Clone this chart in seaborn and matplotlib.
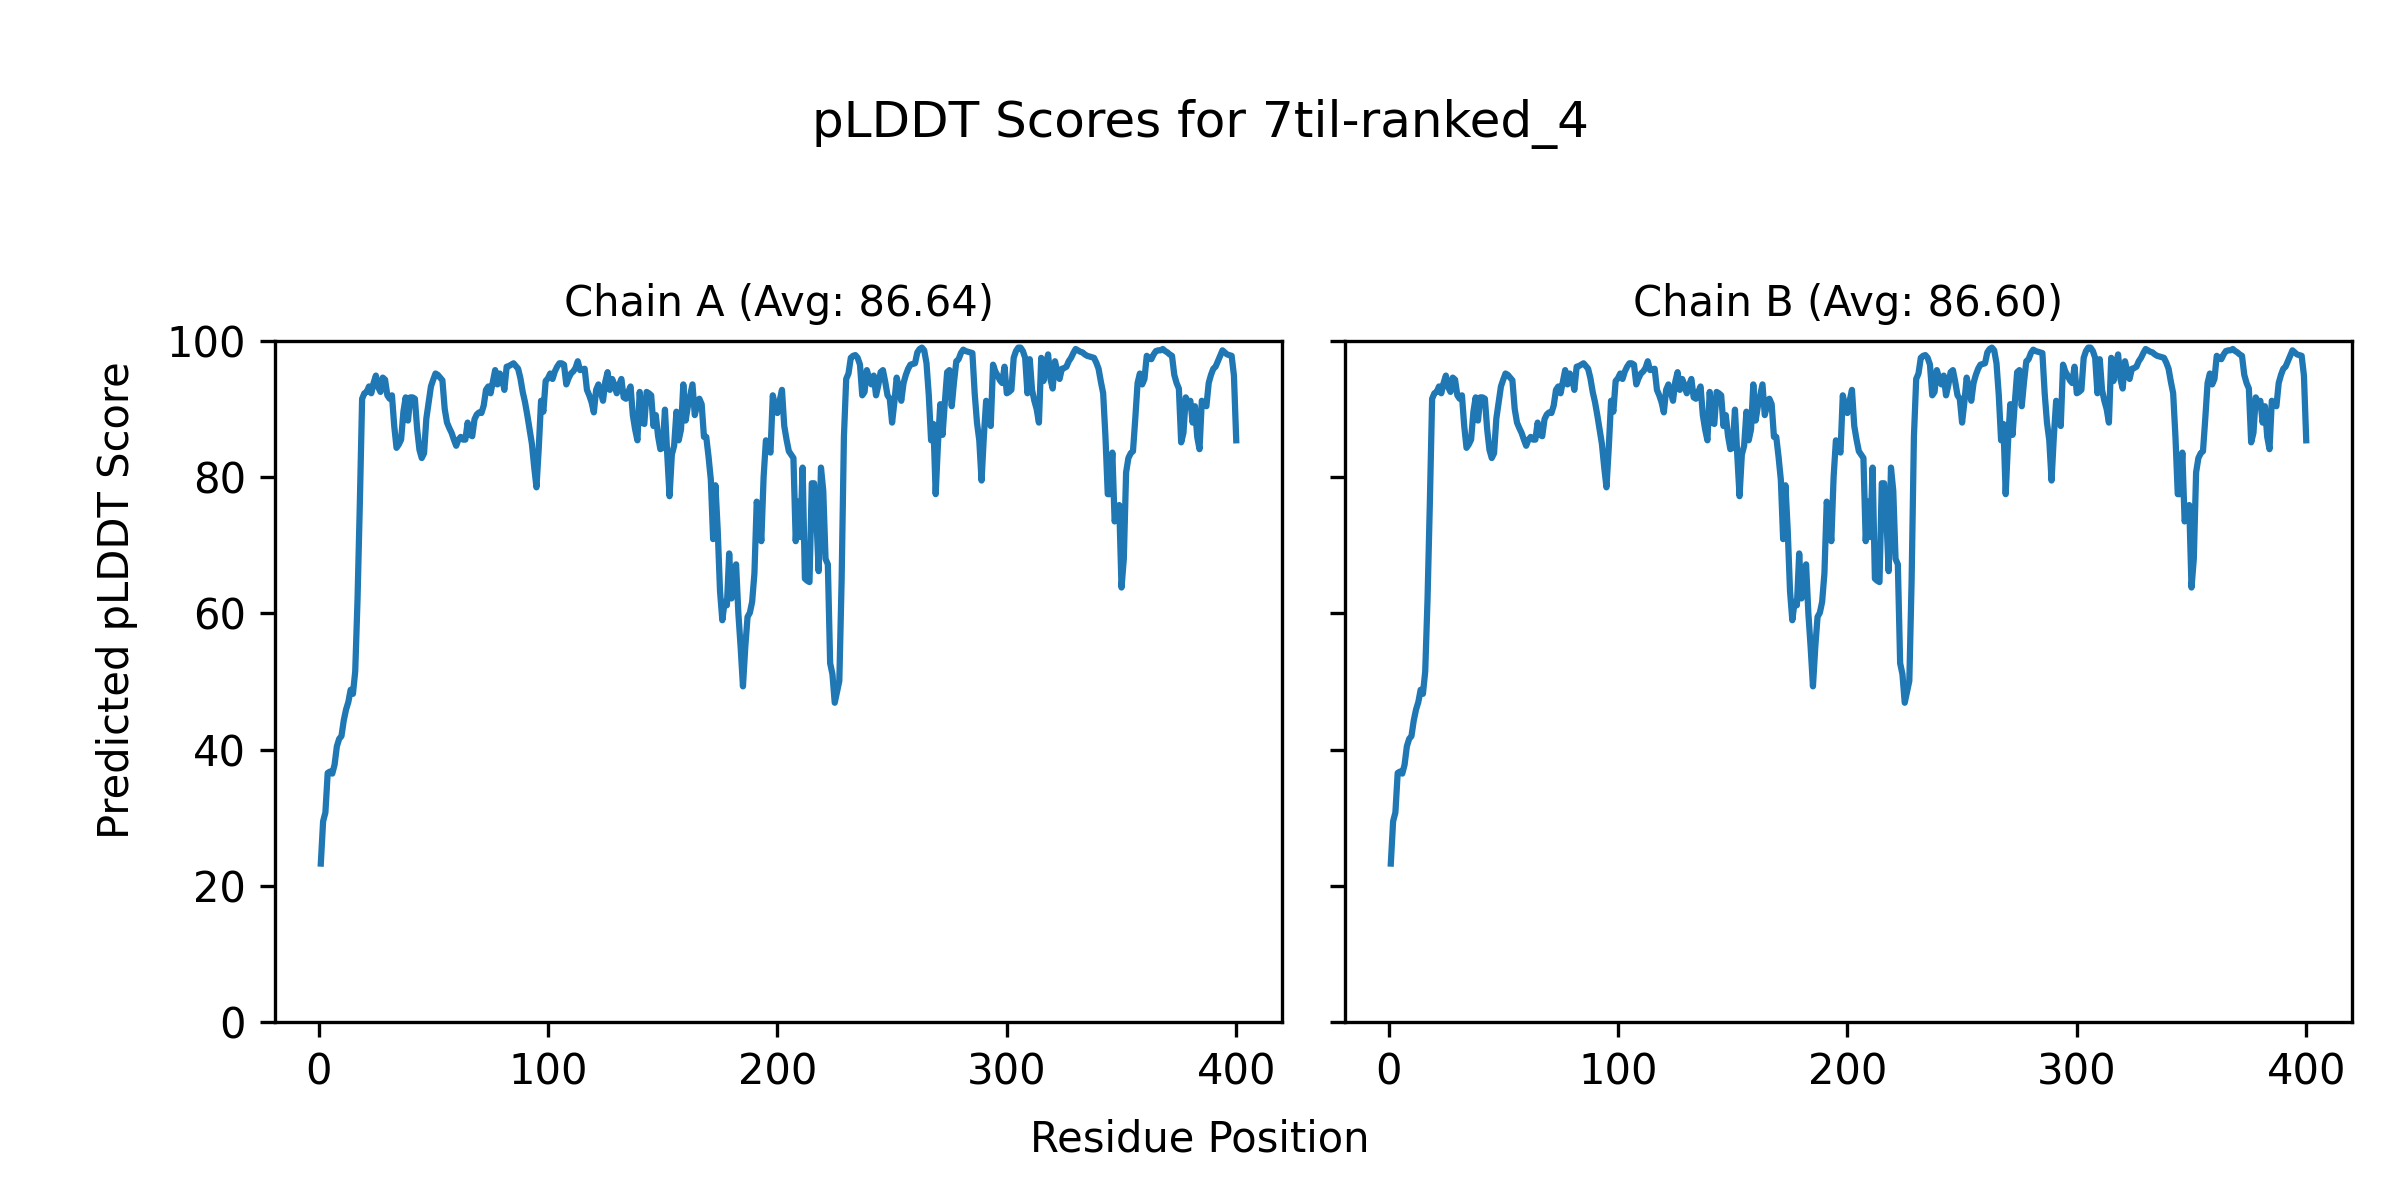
import matplotlib
matplotlib.use('Agg')
import matplotlib.pyplot as plt
import seaborn as sns
import numpy as np

model_name = '7til-ranked_4'
chain_ids = ['A', 'B']
chain_avgs = [86.64, 86.60]

# per-residue pLDDT (residues 1..400)
chain_a_scores = [
    23.3, 29.5, 30.8, 36.6, 36.8, 36.5, 37.8, 40.5, 41.6, 42.0,
    44.3, 45.9, 47.0, 48.8, 48.2, 51.5, 62.0, 76.0, 91.5, 92.3,
    92.5, 93.3, 92.3, 93.8, 94.9, 93.2, 92.5, 94.6, 94.3, 92.0,
    91.5, 92.0, 87.5, 84.3, 84.8, 85.5, 89.6, 91.7, 88.3, 91.7,
    91.7, 91.5, 87.0, 84.0, 82.8, 83.5, 88.6, 91.0, 93.3, 94.3,
    95.2, 95.0, 94.6, 94.2, 90.0, 88.0, 87.2, 86.5, 85.5, 84.6,
    85.5, 85.9, 85.5, 85.5, 88.0, 86.2, 86.0, 88.5, 89.2, 89.5,
    89.4, 90.5, 92.8, 93.3, 92.3, 94.0, 95.7, 93.6, 95.2, 94.5,
    92.8, 96.2, 96.3, 96.5, 96.7, 96.3, 95.9, 94.5, 92.5, 91.0,
    89.1, 87.0, 84.9, 81.5, 78.5, 84.3, 91.2, 89.6, 94.1, 94.5,
    95.2, 94.4, 95.5, 96.2, 96.7, 96.7, 96.5, 93.6, 94.5, 95.2,
    95.5, 96.0, 97.0, 95.7, 95.8, 95.9, 92.8, 92.0, 91.0, 89.5,
    92.8, 93.6, 92.5, 91.2, 94.0, 95.4, 92.8, 94.4, 93.5, 92.3,
    93.5, 94.4, 91.7, 91.5, 92.5, 93.3, 89.1, 87.0, 85.4, 92.5,
    88.0, 87.8, 92.5, 92.3, 92.0, 87.5, 89.1, 86.0, 84.1, 84.3,
    89.9, 83.3, 77.2, 83.3, 84.6, 89.6, 85.4, 87.0, 93.6, 88.3,
    90.4, 92.0, 93.6, 89.1, 90.5, 91.5, 90.7, 85.9, 85.9, 83.0,
    79.6, 70.9, 78.8, 72.2, 63.3, 59.0, 61.7, 61.2, 68.8, 62.2,
    64.8, 67.2, 60.0, 55.0, 49.3, 55.0, 59.5, 60.1, 61.7, 65.9,
    76.4, 74.3, 70.6, 80.0, 85.4, 84.5, 83.6, 92.0, 90.5, 89.4,
    91.2, 92.8, 87.5, 85.5, 83.8, 83.3, 82.8, 70.6, 76.4, 71.2,
    81.4, 65.1, 64.8, 64.6, 79.1, 79.1, 74.0, 66.2, 81.4, 78.0,
    68.0, 67.2, 52.7, 51.1, 46.9, 48.5, 50.1, 64.8, 85.9, 94.4,
    95.2, 97.5, 97.8, 97.9, 97.5, 96.5, 92.0, 92.5, 95.7, 94.5,
    93.6, 94.9, 92.0, 93.5, 95.4, 95.7, 94.0, 92.0, 91.5, 88.0,
    91.0, 94.6, 93.0, 91.2, 93.8, 95.0, 95.9, 96.5, 96.6, 96.7,
    98.3, 98.8, 99.0, 98.6, 96.7, 92.0, 85.4, 87.8, 77.5, 84.9,
    90.7, 86.2, 91.0, 95.4, 95.7, 90.4, 94.0, 97.0, 97.3, 98.2,
    98.7, 98.5, 98.4, 98.3, 98.2, 92.3, 88.0, 85.4, 79.5, 86.0,
    91.2, 90.5, 87.5, 96.5, 95.5, 94.9, 94.2, 93.8, 96.2, 92.3,
    92.5, 92.8, 97.5, 98.5, 99.0, 99.0, 98.5, 97.5, 92.3, 97.3,
    92.8, 91.2, 90.0, 88.0, 97.5, 94.1, 96.5, 98.0, 94.4, 93.0,
    97.0, 95.5, 94.4, 95.9, 96.0, 96.2, 97.0, 97.5, 98.2, 98.8,
    98.6, 98.4, 98.3, 98.0, 97.8, 97.7, 97.6, 97.5, 96.8, 95.9,
    94.0, 92.3, 85.9, 77.5, 77.5, 83.6, 73.5, 74.8, 75.9, 63.8,
    68.0, 80.7, 82.8, 83.5, 83.8, 88.6, 93.8, 95.2, 93.6, 94.4,
    97.8, 97.5, 97.3, 98.0, 98.5, 98.6, 98.6, 98.8, 98.5, 98.3,
    98.0, 97.8, 95.0, 93.8, 93.0, 85.1, 86.5, 91.7, 90.9, 91.2,
    88.0, 90.4, 85.9, 84.1, 91.2, 90.8, 90.4, 93.8, 95.0, 95.9,
    96.2, 97.0, 97.8, 98.6, 98.3, 98.0, 97.9, 97.8, 94.9, 85.4,
]
# chain B looks identical in the picture
chain_b_scores = list(chain_a_scores)

residues = np.arange(1, len(chain_a_scores) + 1)

fig, axes = plt.subplots(1, 2, figsize=(8, 4), sharey=True)
fig.subplots_adjust(left=0.1146, right=0.98, bottom=0.148, top=0.716, wspace=0.0626)

for ax, cid, avg, scores in zip(axes, chain_ids, chain_avgs, [chain_a_scores, chain_b_scores]):
    sns.lineplot(x=residues, y=scores, ax=ax, color='#1f77b4', linewidth=1.5)
    ax.set_title(f'Chain {cid} (Avg: {avg:.2f})', fontsize=10)
    ax.set_ylim(0, 100)

fig.suptitle(f'pLDDT Scores for {model_name}', fontsize=12, y=0.886, va='baseline')
fig.text(0.5, 0.04, 'Residue Position', ha='center', fontsize=10)
fig.text(0.04, 0.5, 'Predicted pLDDT Score', va='center', rotation='vertical', fontsize=10)

fig.savefig('out.png', dpi=300)
